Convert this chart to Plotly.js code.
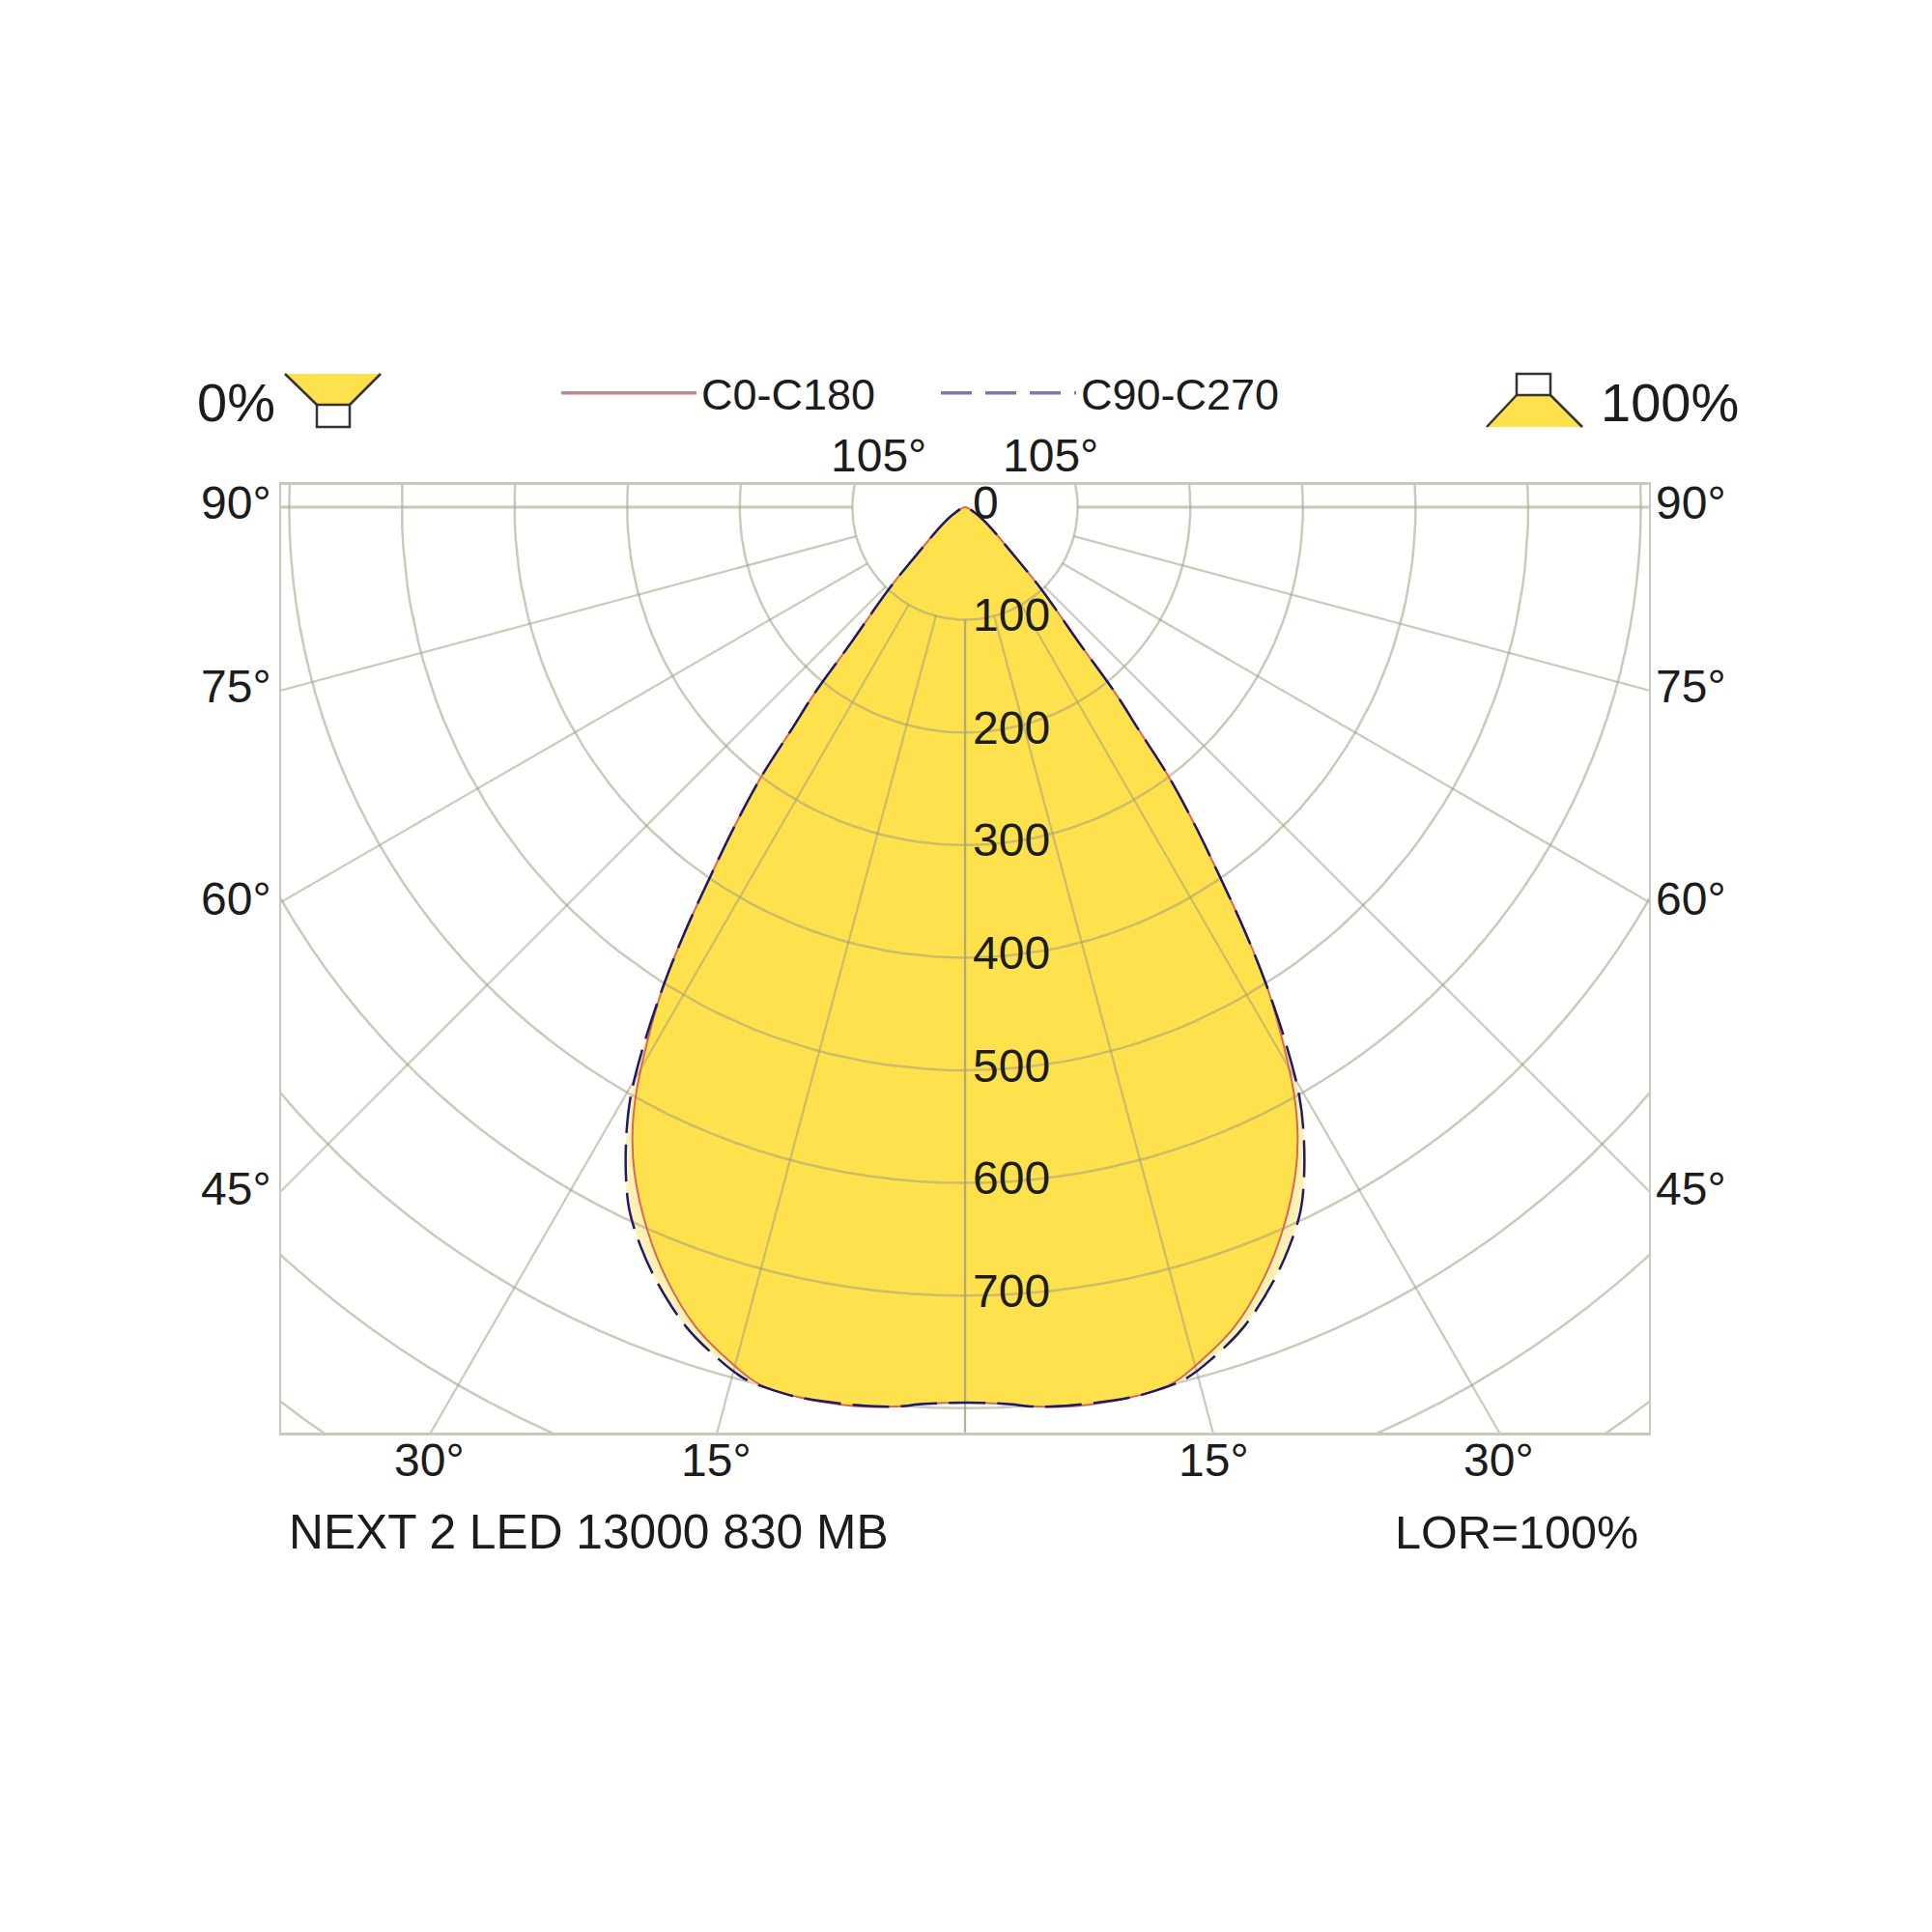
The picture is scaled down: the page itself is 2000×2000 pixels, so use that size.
<!DOCTYPE html>
<html>
<head>
<meta charset="utf-8">
<script src="https://cdn.plot.ly/plotly-3.0.1.min.js"></script>
<style>body{margin:0;background:#fff}</style>
</head>
<body>
<div id="chart" style="width:2000px;height:2000px"></div>
<script>
/* intensity, half curves, mirrored left/right */
const gammaC0 = [0, 2.6, 4.5, 6.9, 10.4, 13.15, 15.06, 18.2, 21.2, 23.8, 26.4, 27.95, 29.25, 30.7, 32.2, 33.35, 34.6, 35.9, 37.1, 38, 38.9, 40, 42.9, 45.6, 53.2, 61, 90];
const c0 = [795, 797, 801, 804, 804, 800, 789, 766, 734, 700, 660, 630, 598, 553, 503, 454, 398, 347, 299, 248.5, 215, 159, 99.5, 59, 24, 9, 0];
const gammaC90 = [0, 2.6, 4.5, 6.9, 10.4, 12.1, 14.25, 16.2, 18.8, 21.7, 23.7, 25.5, 26.8, 28.4, 29.6, 30.9, 32.2, 33.35, 34.6, 35.9, 37.1, 38, 38.9, 40, 42.9, 45.6, 53.2, 61, 90];
const c90 = [795, 797, 801, 803, 804, 802.5, 798, 787, 768.6, 740, 716.6, 692, 667.5, 632, 600.5, 554.5, 503, 454, 398, 347, 299, 248.5, 215, 159, 99.5, 59, 24, 9, 0];

const ringsInner = [100, 200, 300, 400, 500, 600, 700];
const ringsOuter = [800, 900, 1000];
const spokes = [0, 15, 30, 45, 60, 75, 90];
const ringLabels = [0, 100, 200, 300, 400, 500, 600, 700];

const seriesNames = ["C0-C180", "C90-C270"];
const productName = "NEXT 2 LED 13000 830 MB";
const lorText = "LOR=100%";

const gridColor = "rgba(160,158,130,0.55)";
const frameColor = "#c9c8bc";
const textColor = "#1c1c1c";
const fontName = "Liberation Sans, Arial, sans-serif";

/* plot box on the page */
const boxL = 291, boxR = 1707, boxT = 502, boxB = 1483;
const pxPerCd = 1.166;
const poleY = 525;
const rad = (d) => (d * Math.PI) / 180;

// gamma measured from straight down, negative = left side
const toX = (g, r) => r * Math.sin(rad(g));
const toY = (g, r) => -r * Math.cos(rad(g));

const outline = (angles, vals) => {
  const xs = [], ys = [];
  for (let i = angles.length - 1; i > 0; i--) {
    xs.push(toX(-angles[i], vals[i]));
    ys.push(toY(-angles[i], vals[i]));
  }
  for (let i = 0; i < angles.length; i++) {
    xs.push(toX(angles[i], vals[i]));
    ys.push(toY(angles[i], vals[i]));
  }
  return { x: xs, y: ys };
};

const ringTrace = (radii) => {
  const xs = [], ys = [];
  radii.forEach((r) => {
    for (let g = 0; g <= 360; g += 2) {
      xs.push(toX(g, r));
      ys.push(toY(g, r));
    }
    xs.push(null);
    ys.push(null);
  });
  return {
    x: xs, y: ys, mode: "lines", showlegend: false, hoverinfo: "skip",
    line: { color: gridColor, width: 2.5 },
  };
};

const spokeTrace = (angles, width) => {
  const xs = [], ys = [];
  angles.forEach((a) => {
    [-a, a].forEach((g) => {
      xs.push(toX(g, 100), toX(g, 1500), null);
      ys.push(toY(g, 100), toY(g, 1500), null);
    });
  });
  return {
    x: xs, y: ys, mode: "lines", showlegend: false, hoverinfo: "skip",
    line: { color: gridColor, width: width },
  };
};

const outC0 = outline(gammaC0, c0);
const outC90 = outline(gammaC90, c90);
const curve = (o, color, width, dash) => ({
  x: o.x, y: o.y, mode: "lines", showlegend: false, hoverinfo: "skip",
  line: { color: color, width: width, dash: dash, shape: "spline", smoothing: 1 },
});
const area = (o, color) => ({
  x: o.x, y: o.y, mode: "lines", fill: "toself", fillcolor: color,
  showlegend: false, hoverinfo: "skip",
  line: { width: 0, shape: "spline", smoothing: 1 },
});
const legendOnly = (name, color, dash) => ({
  x: [null], y: [null], mode: "lines", name: name,
  line: { color: color, width: 3.5, dash: dash },
});

const data = [
  ringTrace(ringsOuter),
  area(outC90, "#fff0b4"),
  area(outC0, "#ffe14d"),
  ringTrace(ringsInner),
  spokeTrace(spokes.slice(0, 6), 2.2),
  spokeTrace([90], 3),
  curve(outC0, "#d8694f", 2, "solid"),
  curve(outC90, "#1d1a6e", 2.5, "38px,12px"),
  legendOnly(seriesNames[0], "#c4848a", "solid"),
  legendOnly(seriesNames[1], "#7a78ae", "32px,14px"),
];

/* page pixels to paper coords, for things outside the plot box */
const paperX = (px) => (px - boxL) / (boxR - boxL);
const paperY = (py) => (boxB - py) / (boxB - boxT);

const label = (text, px, py, size, anchor) => ({
  text: text, xref: "paper", yref: "paper", x: paperX(px), y: paperY(py),
  xanchor: anchor || "center", yanchor: "middle", showarrow: false,
  font: { family: fontName, size: size, color: textColor },
});

const annotations = [
  label("0%", 244, 416, 56),
  label("100%", 1728, 416, 56),
  label("105°", 909, 471, 48),
  label("105°", 1087, 471, 48),
  label("90°", 244, 520, 48),
  label("90°", 1750, 520, 48),
  label("75°", 244, 710, 48),
  label("75°", 1750, 710, 48),
  label("60°", 244, 930, 48),
  label("60°", 1750, 930, 48),
  label("45°", 244, 1230, 48),
  label("45°", 1750, 1230, 48),
  label("30°", 444, 1511, 48),
  label("15°", 741, 1511, 48),
  label("15°", 1256, 1511, 48),
  label("30°", 1551, 1511, 48),
  label(productName, 297, 1586, 49.7, "left"),
  label(lorText, 1698, 1586, 48.5, "right"),
];

ringLabels.forEach((r) => {
  annotations.push({
    text: String(r), xref: "x", yref: "y", x: 5, y: -r, yshift: 5,
    xanchor: "left", yanchor: "middle", showarrow: false,
    font: { family: fontName, size: 48, color: textColor },
  });
});

const polyPath = (pts) =>
  "M" + pts.map((p) => paperX(p[0]) + "," + paperY(p[1])).join(" L") + " Z";
const icon = (pts, fill, line) => ({
  type: "path", xref: "paper", yref: "paper", path: polyPath(pts),
  fillcolor: fill, line: { color: line, width: line === "rgba(0,0,0,0)" ? 0 : 2.5 },
  layer: "above",
});
const edge = (a, b) => ({
  type: "line", xref: "paper", yref: "paper",
  x0: paperX(a[0]), y0: paperY(a[1]), x1: paperX(b[0]), y1: paperY(b[1]),
  line: { color: "#333333", width: 2.5 }, layer: "above",
});

const shapes = [
  // luminaire pictogram, left
  icon([[295, 387], [394, 387], [362, 419], [328, 419]], "#ffe14d", "rgba(0,0,0,0)"),
  edge([295, 387], [328, 419]),
  edge([394, 387], [362, 419]),
  icon([[328, 419], [362, 419], [362, 442], [328, 442]], "#ffffff", "#333333"),
  // luminaire pictogram, right
  icon([[1570, 409], [1605, 409], [1638, 442], [1539, 442]], "#ffe14d", "rgba(0,0,0,0)"),
  edge([1570, 409], [1539, 442]),
  edge([1605, 409], [1638, 442]),
  icon([[1570, 387], [1605, 387], [1605, 409], [1570, 409]], "#ffffff", "#333333"),
];

const layout = {
  width: 2000,
  height: 2000,
  margin: { l: boxL, r: 2000 - boxR, t: boxT, b: 2000 - boxB, pad: 0 },
  paper_bgcolor: "#ffffff",
  plot_bgcolor: "#ffffff",
  hovermode: false,
  xaxis: {
    range: [-(boxR - boxL) / 2 / pxPerCd, (boxR - boxL) / 2 / pxPerCd],
    showgrid: false, zeroline: false, showticklabels: false, ticks: "",
    showline: true, mirror: true, linecolor: frameColor, linewidth: 3,
  },
  yaxis: {
    range: [-(boxB - poleY) / pxPerCd, (poleY - boxT) / pxPerCd],
    showgrid: false, zeroline: false, showticklabels: false, ticks: "",
    showline: true, mirror: true, linecolor: frameColor, linewidth: 2,
  },
  legend: {
    orientation: "h",
    x: paperX(576),
    xanchor: "left",
    y: paperY(407),
    yanchor: "middle",
    itemwidth: 140,
    entrywidth: 238,
    entrywidthmode: "pixels",
    bgcolor: "rgba(0,0,0,0)",
    font: { family: fontName, size: 45, color: textColor },
  },
  annotations: annotations,
  shapes: shapes,
};

Plotly.newPlot("chart", data, layout, { displayModeBar: false });
</script>
</body>
</html>
